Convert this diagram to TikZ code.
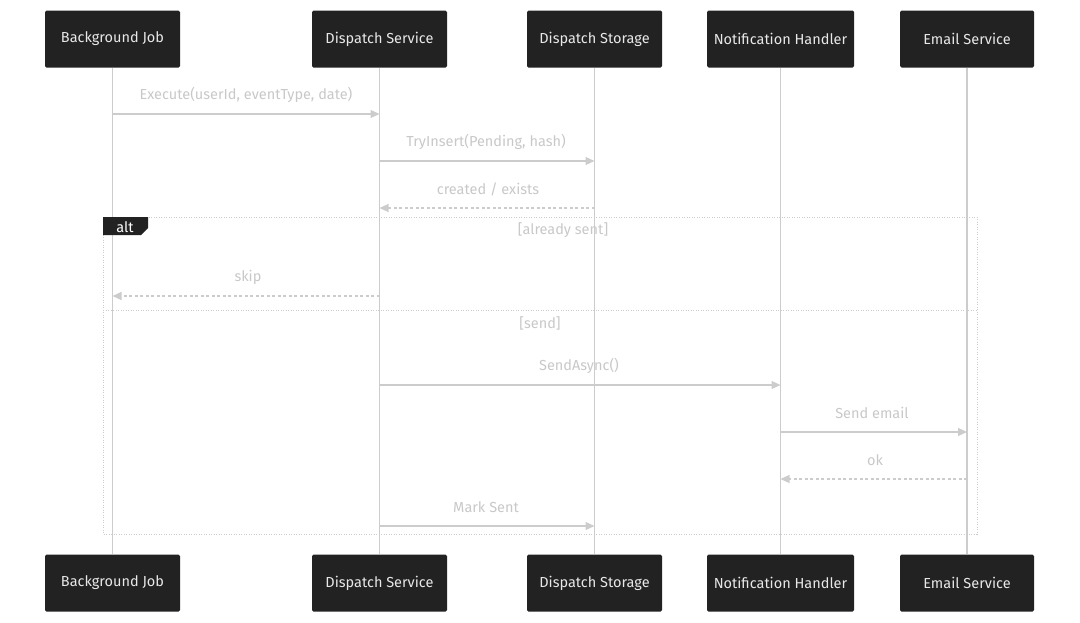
\documentclass[tikz,border=0pt]{standalone}
\usepackage{fontspec}
\setmainfont{Fira Sans}
\usetikzlibrary{arrows.meta}
\definecolor{boxfill}{HTML}{222222}
\definecolor{boxtext}{HTML}{E8E8E8}
\definecolor{linegray}{HTML}{CCCCCC}
\definecolor{labelgray}{HTML}{C8C8C8}
\tikzset{
  actor/.style={fill=boxfill, text=boxtext, rounded corners=1.5pt, minimum height=57pt, inner sep=0pt, font=\fontsize{14.5}{16}\selectfont},
  lifeline/.style={draw=linegray, line width=1.5pt},
  msg/.style={draw=linegray, line width=1.2pt, -{Triangle[length=9pt,width=8pt]}},
  reply/.style={msg, dash pattern=on 3pt off 2.5pt},
  lbl/.style={text=labelgray, font=\fontsize{14.5}{16}\selectfont, inner sep=0pt},
  frame/.style={draw=linegray, line width=1pt, dash pattern=on 1pt off 1.5pt}
}
\begin{document}
\begin{tikzpicture}[x=1pt, y=-1pt]
	\useasboundingbox (0,0) rectangle (1080,622);
	% participants, top and bottom
	\node[actor, minimum width=135pt] (bgTop) at (112.5,39) {Background Job};
	\node[actor, minimum width=135pt] (dsTop) at (379.5,39) {Dispatch Service};
	\node[actor, minimum width=135pt] (stTop) at (594.5,39) {Dispatch Storage};
	\node[actor, minimum width=147pt] (nhTop) at (780.5,39) {Notification Handler};
	\node[actor, minimum width=134pt] (esTop) at (967,39) {Email Service};

	\node[actor, minimum width=135pt] (bgBot) at (112.5,583) {Background Job};
	\node[actor, minimum width=135pt] (dsBot) at (379.5,583) {Dispatch Service};
	\node[actor, minimum width=135pt] (stBot) at (594.5,583) {Dispatch Storage};
	\node[actor, minimum width=147pt] (nhBot) at (780.5,583) {Notification Handler};
	\node[actor, minimum width=134pt] (esBot) at (967,583) {Email Service};

	\draw[lifeline] (bgTop) -- (bgBot);
	\draw[lifeline] (dsTop) -- (dsBot);
	\draw[lifeline] (stTop) -- (stBot);
	\draw[lifeline] (nhTop) -- (nhBot);
	\draw[lifeline] (esTop) -- (esBot);

	% alt frame
	\draw[frame] (103,217) rectangle (977,534);
	\draw[frame] (103,310) -- (977,310);
	\fill[boxfill] (103,217) -- (148,217) -- (148,228) -- (141,235) -- (103,235) -- cycle;
	\node[lbl, text=white] (alt) at (125,227.5) {alt};
	\node[lbl] (sent) at (563,230) {[already sent]};
	\node[lbl] (send) at (540,323) {[send]};

	% messages
	\node[lbl] (execute) at (246,95) {Execute(userId, eventType, date)};
	\draw[msg] (bgTop |- 0,114) -- (dsTop |- 0,114);
	\node[lbl] (tryinsert) at (486,142) {TryInsert(Pending, hash)};
	\draw[msg] (dsTop |- 0,161) -- (stTop |- 0,161);
	\node[lbl] (created) at (488,189) {created / exists};
	\draw[reply] (stTop |- 0,208) -- (dsTop |- 0,208);
	\node[lbl] (skip) at (248,277) {skip};
	\draw[reply] (dsTop |- 0,296) -- (bgTop |- 0,296);
	\node[lbl] (sendasync) at (579,366) {SendAsync()};
	\draw[msg] (dsTop |- 0,385) -- (nhTop |- 0,385);
	\node[lbl] (sendmail) at (872,413) {Send email};
	\draw[msg] (nhTop |- 0,432) -- (esTop |- 0,432);
	\node[lbl] (ok) at (875,460) {ok};
	\draw[reply] (esTop |- 0,479) -- (nhTop |- 0,479);
	\node[lbl] (marksent) at (486,507) {Mark Sent};
	\draw[msg] (dsTop |- 0,526) -- (stTop |- 0,526);
\end{tikzpicture}
\end{document}
